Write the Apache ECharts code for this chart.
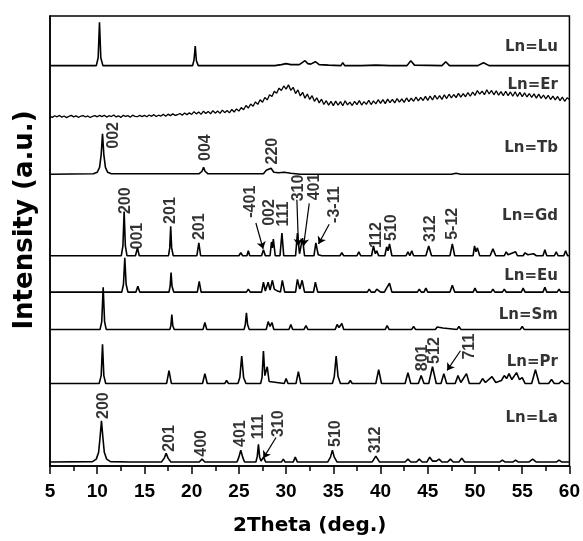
<!DOCTYPE html>
<html>
<head>
<meta charset="utf-8">
<script src="https://cdn.jsdelivr.net/npm/echarts@6/dist/echarts.min.js"></script>
<style>
  html, body { margin: 0; padding: 0; background: #fff; }
  #chart { width: 583px; height: 541px; }
</style>
</head>
<body>
<div id="chart"></div>
<script>
// Stacked XRD patterns, Ln = Lu ... La. Each pattern is [2theta, intensity]
// and is shifted upward by its own offset.
const samples = ['Lu', 'Er', 'Tb', 'Gd', 'Eu', 'Sm', 'Pr', 'La'];
const offsets = [407.5, 355, 297, 214, 177, 139, 84, 4];

const patLu = [
  [5,0],[9.9,0],[10.1,8],[10.24,44],[10.38,8],[10.6,0],
  [15.2,0],[15.4,2],[15.6,0],
  [20.1,0],[20.25,6],[20.38,20],[20.5,5],[20.7,0],
  [25.4,0],[25.6,1.5],[25.8,0],
  [28.8,0],[29.5,1],[30.0,2],[30.5,1],[31.4,1],[32.0,5],[32.3,2],[32.6,1.5],[33.1,4],[33.5,1],[34.5,0.5],
  [35.8,0],[36.0,3],[36.2,0],
  [38.0,0],[39.5,0.5],[41.0,0],
  [42.8,0],[43.2,5],[43.6,0.5],
  [46.5,0],[46.9,4],[47.3,0],
  [50.3,0],[50.9,3],[51.5,0],[60,0]
];

// Er: amorphous, noisy pattern recorded on a 0.25 deg step
const erStart = 5.0;
const erStep = 0.25;
const erCounts = [
  0.9,-0.2,1.5,0.4,1.8,0.1,1.2,-0.4,0.8,1.9,0.3,1.4,-0.1,1.0,1.7,0.2,1.3,-0.3,0.9,1.6,
  0.4,1.8,0.6,2.0,0.1,1.5,0.7,2.2,0.3,1.4,-0.2,1.9,0.8,1.6,0.0,2.1,0.9,0.5,1.8,0.6,
  1.9,0.5,2.3,0.9,2.6,0.7,2.0,1.2,2.9,1.0,3.1,1.6,3.4,1.9,2.5,3.8,2.1,4.2,2.6,4.4,
  2.8,5.6,3.4,5.2,2.9,6.1,3.7,5.9,3.5,6.6,4.1,6.3,3.9,7.2,4.6,6.8,4.4,7.9,5.3,8.4,
  6.2,9.8,7.6,11.9,9.3,13.4,11.2,15.6,13.1,17.8,15.2,20.1,17.6,22.9,21.0,26.3,24.4,29.6,27.1,31.8,
  28.6,32.9,27.3,30.4,24.1,27.8,21.6,25.3,19.4,23.6,18.1,21.9,16.2,19.7,14.6,18.3,12.9,16.8,12.3,16.1,
  11.8,16.4,12.2,15.9,11.6,16.7,12.5,15.3,11.9,16.2,12.8,16.9,12.4,15.8,13.1,17.3,12.9,16.6,13.6,17.8,
  14.1,17.9,13.8,18.4,14.9,18.1,14.6,19.0,15.3,18.7,15.1,19.6,15.8,19.3,16.2,20.4,16.7,20.1,17.0,21.2,
  17.1,21.6,17.5,22.2,18.3,21.9,18.1,22.8,19.0,23.4,19.6,23.1,19.9,24.2,20.4,23.9,20.8,25.1,21.3,25.6,
  22.2,27.1,23.4,26.6,22.9,27.9,23.6,27.2,22.8,26.9,22.4,26.1,21.9,26.4,22.0,25.7,21.3,25.9,21.1,25.2,
  21.0,24.8,20.6,24.1,20.2,23.7,19.4,23.5,19.1,22.6,18.7,22.3,18.0,21.4,17.6,21.1,16.9,20.5,16.2,19.8,
  18.1
];

const patTb = [
  [5,0],[9.6,0.5],[10.0,2],[10.25,7],[10.42,20],[10.56,41],[10.7,20],[10.87,7],[11.1,2],[11.5,0.5],
  [20.8,0.5],[21.1,3],[21.26,7],[21.42,3],[21.7,0.5],
  [27.6,0.5],[27.9,4],[28.05,2],[28.4,6],[28.7,2],[29.2,1.5],[29.8,2],[30.5,1],[31.5,0],
  [47.5,0],[48.0,1],[48.5,0],[60,0]
];

const patGd = [
  [5,0],[12.55,0],[12.72,10],[12.85,45],[12.98,10],[13.15,0],
  [14.05,0],[14.26,8],[14.45,0],
  [17.55,0],[17.68,8],[17.78,30],[17.88,8],[18.05,0],
  [20.55,0],[20.76,13],[20.95,0],
  [25.0,0],[25.2,3],[25.4,0],
  [25.85,0],[26.0,5],[26.15,0],
  [27.4,0],[27.6,6],[27.8,0],
  [28.3,0],[28.45,14],[28.55,8],[28.65,17],[28.85,0],
  [29.35,0],[29.56,23],[29.75,0],
  [31.0,0],[31.2,23],[31.42,2],[31.55,4],[31.74,18],[31.95,0],
  [32.95,0],[33.15,13],[33.4,1],[33.8,0],
  [35.7,0],[35.9,3],[36.1,0],
  [37.5,0],[37.7,4],[37.9,0],
  [39.05,0],[39.25,10],[39.45,2],[39.6,5],[39.8,0],
  [40.45,0],[40.65,9],[40.8,5],[40.95,12],[41.2,0],
  [42.7,0],[42.9,4],[43.1,0],[43.3,5],[43.5,0],
  [44.8,0],[45.1,10],[45.4,0],
  [47.35,0],[47.6,12],[47.85,0],
  [49.8,0],[49.95,10],[50.1,4],[50.25,8],[50.5,0],
  [51.6,0],[51.9,7],[52.2,0],
  [53.1,0],[53.3,4],[53.5,1],[54.3,4],[54.5,0],
  [55.1,0],[55.3,3],[55.6,1],[56.2,2],[56.5,0],
  [57.2,0],[57.4,6],[57.6,0],
  [58.4,0],[58.6,4],[58.8,0],
  [59.4,0],[59.6,5],[59.8,0],[60,0]
];

const patEu = [
  [5,0],[12.6,0],[12.78,8],[12.92,35],[13.06,8],[13.25,0],
  [14.1,0],[14.3,6],[14.5,0],
  [17.6,0],[17.72,6],[17.82,20],[17.92,6],[18.1,0],
  [20.6,0],[20.8,11],[21.0,0],
  [25.8,0],[26.0,3],[26.2,0],
  [27.4,0],[27.6,10],[27.8,1],[28.1,10],[28.3,2],[28.55,12],[28.75,3],[28.9,5],[29.1,1],[29.4,0],[29.6,12],[29.85,0],
  [31.0,0],[31.2,13],[31.45,3],[31.7,12],[31.95,0],
  [32.9,0],[33.1,10],[33.35,0],
  [35.7,0],[35.9,2],[36.1,0],
  [38.6,0],[38.8,3],[39.0,0],[39.4,0],[39.6,3],[39.8,1],[40.0,0],[40.4,0],[40.7,5],[40.8,3],[40.95,9],[41.2,0],
  [43.9,0],[44.1,3],[44.3,0],[44.6,0],[44.8,4],[45.0,0],
  [47.35,0],[47.6,7],[47.85,0],
  [49.8,0],[50.0,4],[50.2,0],
  [51.7,0],[51.9,3],[52.1,0],
  [52.9,0],[53.1,3],[53.3,0],
  [54.9,0],[55.1,4],[55.3,0],
  [57.2,0],[57.4,5],[57.6,0],
  [58.7,0],[58.9,3],[59.1,0],[60,0]
];

const patSm = [
  [5,0],[10.3,0],[10.48,8],[10.63,43],[10.78,8],[10.95,0],
  [14.1,0],[14.3,2],[14.5,0],
  [17.7,0],[17.8,4],[17.9,15],[18.0,4],[18.15,0],
  [21.2,0],[21.4,7],[21.6,0],
  [25.55,0],[25.68,5],[25.8,17],[25.92,5],[26.1,0],
  [27.9,0],[28.1,8],[28.3,3],[28.5,7],[28.7,0],
  [30.3,0],[30.5,5],[30.7,0],
  [31.9,0],[32.1,4],[32.3,0],
  [35.2,0],[35.4,5],[35.6,2],[35.9,6],[36.1,0],
  [40.5,0],[40.7,4],[40.9,0],
  [43.3,0],[43.5,3],[43.7,0],
  [45.8,0],[46.0,2.5],[46.2,0.5],[46.6,1.5],[46.8,0],
  [48.1,0],[48.3,3],[48.5,0],
  [50.3,0],[50.5,2],[50.7,0],
  [54.8,0],[55.0,3],[55.2,0],[60,0]
];

const patPr = [
  [5,0],[10.2,0],[10.42,8],[10.56,40],[10.7,8],[10.9,0],
  [17.35,0],[17.6,13],[17.85,0],
  [21.15,0],[21.4,10],[21.65,0],
  [23.5,0],[23.7,3],[23.9,0],
  [24.9,0],[25.1,6],[25.3,28],[25.5,6],[25.75,0],
  [27.3,0],[27.45,6],[27.6,33],[27.75,8],[28.0,17],[28.2,2],[28.4,0],
  [29.8,0],[30.0,5],[30.2,0],
  [31.05,0],[31.3,12],[31.55,0],
  [34.9,0],[35.1,7],[35.3,28],[35.5,7],[35.75,0],
  [36.6,0],[36.8,3],[37.0,0],
  [39.5,0],[39.8,14],[40.1,0],
  [42.6,0],[42.9,11],[43.2,0],
  [44.0,0],[44.3,8],[44.6,0],
  [45.1,0],[45.5,17],[45.9,0],
  [46.4,0],[46.7,10],[47.0,0],
  [47.9,0],[48.2,8],[48.5,1],[49.1,10],[49.4,0],
  [50.5,0],[50.8,5],[51.1,1],[51.8,7],[52.2,1],[52.8,3],[53.1,8],[53.35,5],[53.6,10],[53.9,4],[54.4,11],[54.7,4],[55.0,6],[55.3,0],
  [56.0,0],[56.4,14],[56.8,0],
  [57.8,0],[58.1,4],[58.4,0],[58.9,0],[59.2,3],[59.5,0],[60,0]
];

const patLa = [
  [5,0],[9.5,0.5],[9.9,3],[10.15,10],[10.3,25],[10.45,42],[10.6,25],[10.75,10],[11.0,3],[11.4,0.5],
  [13.5,0],[13.7,1],[13.9,0],
  [16.8,0],[17.1,4],[17.3,9],[17.5,4],[17.8,0],
  [20.8,0],[21.1,3],[21.4,0],
  [23.0,0],[23.2,2],[23.4,0],
  [24.8,0],[25.0,5],[25.2,12],[25.4,5],[25.6,0],
  [26.8,0],[26.95,6],[27.07,18],[27.2,5],[27.35,1],[27.6,5],[27.85,0],
  [29.5,0],[29.7,3],[29.9,0],
  [30.75,0],[30.97,5],[31.2,0],
  [34.4,0],[34.7,5],[34.9,12],[35.1,5],[35.4,0],
  [36.1,0],[36.3,2],[36.5,0],
  [39.1,0],[39.3,3],[39.5,6],[39.7,3],[39.9,0],
  [42.6,0],[42.9,3],[43.2,0],
  [43.8,0],[44.1,3],[44.4,0],
  [44.9,0],[45.2,5],[45.5,1],[45.9,1],[46.2,3],[46.5,0],
  [47.1,0],[47.4,3],[47.7,0],
  [48.3,0],[48.6,4],[48.9,0],
  [49.5,0],[49.7,2],[49.9,0],
  [52.6,0],[52.9,2],[53.2,0],
  [54.0,0],[54.3,2],[54.6,0],
  [55.7,0],[56.1,3],[56.5,0],
  [58.6,0],[58.9,2],[59.2,0],[60,0]
];

// Miller-index annotations: [text, 2theta, level]
const hklTb = [['002', 11.69, 336.5], ['004', 21.52, 324], ['220', 28.58, 320.5]];
const hklGd = [
  ['200', 13.0, 270], ['001', 14.24, 234], ['201', 17.76, 260], ['201', 20.83, 243.5],
  ['-401', 26.29, 269], ['002', 28.22, 258], ['111', 29.7, 256.5], ['310', 31.3, 283],
  ['401', 33.05, 284], ['-3-11', 35.09, 266], ['112', 39.57, 235], ['510', 41.2, 242.5],
  ['312', 45.29, 241.5], ['5-12', 47.58, 246.5]
];
const hklPr = [['801', 44.48, 110], ['512', 45.75, 117.5], ['711', 49.44, 121.5]];
const hklLa = [
  ['200', 10.63, 61.5], ['201', 17.67, 28], ['400', 21.1, 23], ['401', 25.23, 33],
  ['111', 27.06, 40], ['310', 29.17, 43], ['510', 35.26, 33], ['312', 39.48, 26.5]
];

// Pointer arrows: [[2theta, level] from, [2theta, level] to]
const pointers = [
  [[26.8, 247.3], [27.57, 221]],
  [[31.14, 271], [31.31, 224]],
  [[32.45, 267.3], [31.85, 224]],
  [[34.56, 246], [33.43, 226]],
  [[48.46, 117.3], [47.05, 97.3]],
  [[28.93, 29], [27.59, 8]]
];

// Sample tags at the right edge
const tagTheta = 58.84;
const tagLevels = [426, 388, 324, 254, 193, 154, 106, 49];

const patterns = [
  patLu,
  erCounts.map((v, i) => [erStart + i * erStep, v]),
  patTb, patGd, patEu, patSm, patPr, patLa
];

const chart = echarts.init(document.getElementById('chart'), null, { renderer: 'canvas' });

const traceSeries = patterns.map((pts, k) => ({
  type: 'line',
  name: 'Ln=' + samples[k],
  data: pts.map(p => [p[0], p[1] + offsets[k]]),
  showSymbol: false,
  symbol: 'none',
  lineStyle: { color: '#000', width: k === 1 ? 1.3 : 1.6 },
  z: 3
}));

const hklSeries = {
  type: 'scatter',
  symbolSize: 1,
  itemStyle: { color: 'transparent' },
  silent: true,
  z: 5,
  data: [].concat(hklTb, hklGd, hklPr, hklLa).map(h => ({ name: h[0], value: [h[1], h[2]] })),
  label: {
    show: true,
    position: 'inside',
    rotate: 90,
    formatter: '{b}',
    color: '#000',
    fontFamily: 'Liberation Sans',
    fontWeight: 'bold',
    fontSize: 16
  }
};

const tagSeries = {
  type: 'scatter',
  symbolSize: 1,
  itemStyle: { color: 'transparent' },
  silent: true,
  z: 5,
  data: samples.map((s, k) => ({ name: 'Ln=' + s, value: [tagTheta, tagLevels[k]] })),
  label: {
    show: true,
    position: 'left',
    distance: 0,
    formatter: '{b}',
    color: '#000',
    fontFamily: 'DejaVu Sans',
    fontWeight: 'bold',
    fontSize: 15
  }
};

const arrowSeries = {
  type: 'lines',
  coordinateSystem: 'cartesian2d',
  polyline: false,
  silent: true,
  z: 6,
  symbol: ['none', 'arrow'],
  symbolSize: 7,
  lineStyle: { color: '#000', width: 1.2, opacity: 1 },
  data: pointers.map(p => ({ coords: [p[0], p[1]] }))
};

chart.setOption({
  animation: false,
  backgroundColor: '#fff',
  grid: {
    left: 50, right: 12, top: 16, bottom: 67,
    show: true, borderColor: '#000', borderWidth: 1.5, backgroundColor: 'transparent'
  },
  graphic: [{
    type: 'text',
    x: 25,
    y: 220,
    rotation: Math.PI / 2,
    silent: true,
    style: {
      text: 'Intensity (a.u.)',
      fill: '#000',
      font: 'bold 26px "DejaVu Sans"',
      align: 'center',
      verticalAlign: 'middle',
      textAlign: 'center',
      textVerticalAlign: 'middle'
    }
  }],
  xAxis: {
    type: 'value',
    min: 5, max: 60, interval: 5,
    name: '2Theta (deg.)',
    nameLocation: 'middle',
    nameGap: 50,
    nameTextStyle: { color: '#000', fontFamily: 'DejaVu Sans', fontWeight: 'bold', fontSize: 20 },
    axisLine: { show: true, lineStyle: { color: '#000', width: 1.5 } },
    axisTick: { show: true, inside: false, length: 8, lineStyle: { color: '#000', width: 1.5 } },
    minorTick: { show: true, splitNumber: 2, length: 5, lineStyle: { color: '#000', width: 1.5 } },
    splitLine: { show: false },
    axisLabel: { color: '#000', fontFamily: 'Liberation Sans', fontWeight: 'bold', fontSize: 19, margin: 16 }
  },
  yAxis: {
    type: 'value',
    min: 0, max: 458,
    axisLine: { show: true, lineStyle: { color: '#000', width: 1.5 } },
    axisTick: { show: false },
    axisLabel: { show: false },
    splitLine: { show: false }
  },
  series: traceSeries.concat([hklSeries, tagSeries, arrowSeries])
});
</script>
</body>
</html>
